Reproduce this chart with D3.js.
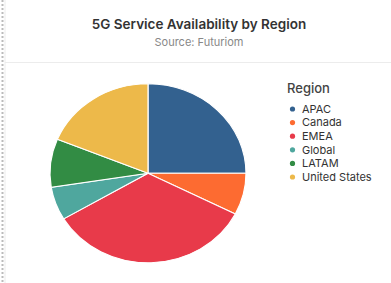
<!DOCTYPE html>
<html>
<head>
<meta charset="utf-8">
<script src="https://cdn.jsdelivr.net/npm/d3@7"></script>
<style>
  html, body { margin: 0; padding: 0; background: #fff; }
  body { font-family: Inter, "Liberation Sans", sans-serif; }
</style>
</head>
<body>
<svg id="chart" width="391" height="283"></svg>
<script>
// data (share of services, %)
const regions = ["APAC", "Canada", "EMEA", "Global", "LATAM", "United States"];
const shares = [25, 7.5, 34, 6, 8.7, 18.8];
const colors = ["#33618f", "#fd6b31", "#e83a4a", "#4fa79e", "#328c44", "#edb94a"];

const data = regions.map((r, i) => ({ region: r, value: shares[i] }));

const svg = d3.select("#chart");
const W = 391, H = 283;

// page frame: dotted left edge, card and header divider
svg.append("line")
    .attr("x1", 2.5).attr("x2", 2.5)
    .attr("y1", 0).attr("y2", H)
    .attr("stroke", "#bbb")
    .attr("stroke-width", 2)
    .attr("stroke-dasharray", "2,2");

svg.append("rect")
    .attr("x", 5).attr("y", -4)
    .attr("width", W).attr("height", H + 8)
    .attr("rx", 4)
    .attr("fill", "#fff")
    .attr("stroke", "#ececec");

svg.append("line")
    .attr("x1", 5).attr("x2", W)
    .attr("y1", 62.5).attr("y2", 62.5)
    .attr("stroke", "#ececec");

// title and subtitle
svg.append("text")
    .attr("x", 199)
    .attr("y", 29)
    .attr("text-anchor", "middle")
    .style("font-size", "13.5px")
    .style("font-weight", "600")
    .style("fill", "#333")
    .text("5G Service Availability by Region");

svg.append("text")
    .attr("x", 199)
    .attr("y", 46)
    .attr("text-anchor", "middle")
    .style("font-size", "11px")
    .style("fill", "#888")
    .text("Source: Futuriom");

// pie (drawn slightly squashed vertically, like the original)
const rx = 98, ry = 89.5;
const color = d3.scaleOrdinal().domain(regions).range(colors);

const pie = d3.pie()
    .value(d => d.value)
    .sort(null);

const arc = d3.arc()
    .innerRadius(0)
    .outerRadius(rx);

const g = svg.append("g")
    .attr("transform", `translate(148,173.3) scale(1,${ry / rx})`);

g.selectAll("path")
    .data(pie(data))
    .enter()
    .append("path")
    .attr("d", arc)
    .attr("fill", d => color(d.data.region))
    .attr("stroke", "#fff")
    .attr("stroke-width", 1.2);

// legend
const legend = svg.append("g")
    .attr("transform", "translate(287,0)");

legend.append("text")
    .attr("x", 0)
    .attr("y", 93)
    .style("font-size", "13px")
    .style("font-weight", "500")
    .style("fill", "#444")
    .text("Region");

const item = legend.selectAll(".item")
    .data(regions)
    .enter()
    .append("g")
    .attr("class", "item")
    .attr("transform", (d, i) => `translate(0,${109 + i * 13.6})`);

item.append("circle")
    .attr("cx", 5.5)
    .attr("cy", 0)
    .attr("r", 2.6)
    .attr("fill", d => color(d));

item.append("text")
    .attr("x", 15)
    .attr("y", 0)
    .attr("dy", "0.35em")
    .style("font-size", "11px")
    .style("fill", "#333")
    .text(d => d);
</script>
</body>
</html>
